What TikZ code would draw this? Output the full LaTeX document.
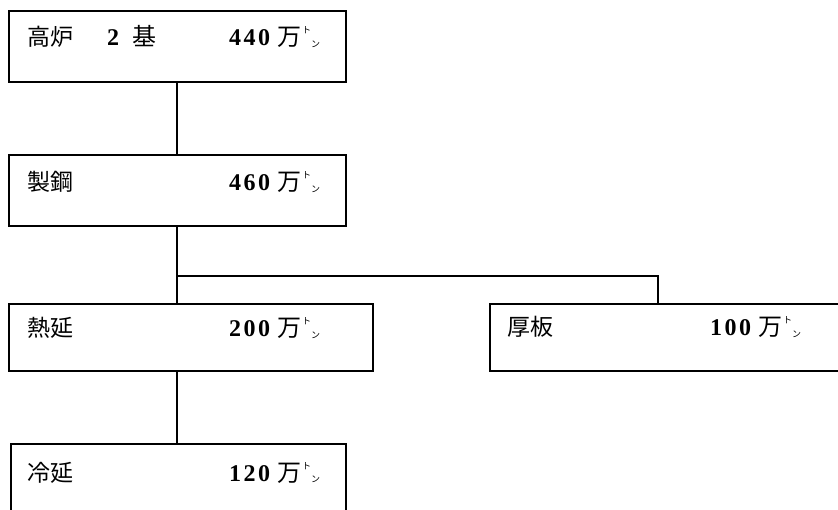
\documentclass[tikz,border=0pt]{standalone}
\usepackage{fontspec}
\setmainfont{Liberation Serif}
\newfontfamily\jp{Noto Sans CJK JP}
\newcommand\tonunit{{\jp\mdseries 万}\kern1pt\raisebox{0.5em}{\jp\fontsize{9}{9}\selectfont ト}\raisebox{-0.05em}{\jp\fontsize{9}{9}\selectfont ン}}
\newcommand\amt[1]{\llap{{\bfseries #1}\kern7pt}\tonunit}
\begin{document}
\begin{tikzpicture}[x=1pt,y=-1pt,
  box/.style={draw, line width=1.8pt, inner sep=0pt, anchor=north west},
  lbl/.style={anchor=base west, inner sep=0pt, font=\jp\fontsize{23}{26}\selectfont},
  amtlbl/.style={anchor=base west, inner sep=0pt, font=\fontsize{24}{26}\selectfont},
  link/.style={line width=1.8pt}]
\clip (0,0) rectangle (838,510);
\fill[white] (0,0) rectangle (838,510);
\node[box, minimum width=337pt, minimum height=71pt] (koro) at (8,10) {};
\node[box, minimum width=337pt, minimum height=71pt] (seiko) at (8,154) {};
\node[box, minimum width=364pt, minimum height=67pt] (netsu) at (8,303) {};
\node[box, minimum width=335pt, minimum height=80pt] (reien) at (10,443) {};
\node[box, minimum width=360pt, minimum height=67pt] (atsu) at (489,303) {};
\coordinate (sp) at (177,0);
\coordinate (br) at (658,276);
\draw[link] (koro.south -| sp) -- (seiko.north -| sp);
\draw[link] (seiko.south -| sp) -- (sp |- netsu.north);
\draw[link] (sp |- br) -- (br) -- (br |- atsu.north);
\draw[link] (sp |- netsu.south) -- (sp |- reien.north);
\node[lbl] (t1a) at (27,46) {高炉};
\node[amtlbl] (t1b) at (107,46) {\textbf{2}\kern13pt{\jp 基}};
\node[amtlbl] (t1c) at (277,46) {\amt{4\kern2.5pt4\kern2.5pt0}};
\node[lbl] (t2a) at (27,191) {製鋼};
\node[amtlbl] (t2c) at (277,191) {\amt{4\kern2.5pt6\kern2.5pt0}};
\node[lbl] (t3a) at (27,337) {熱延};
\node[amtlbl] (t3c) at (277,337) {\amt{2\kern2.5pt0\kern2.5pt0}};
\node[lbl] (t4a) at (27,481) {冷延};
\node[amtlbl] (t4c) at (277,481) {\amt{1\kern2.5pt2\kern2.5pt0}};
\node[lbl] (t5a) at (507,336) {厚板};
\node[amtlbl] (t5c) at (758,336) {\amt{1\kern2.5pt0\kern2.5pt0}};
\end{tikzpicture}
\end{document}
